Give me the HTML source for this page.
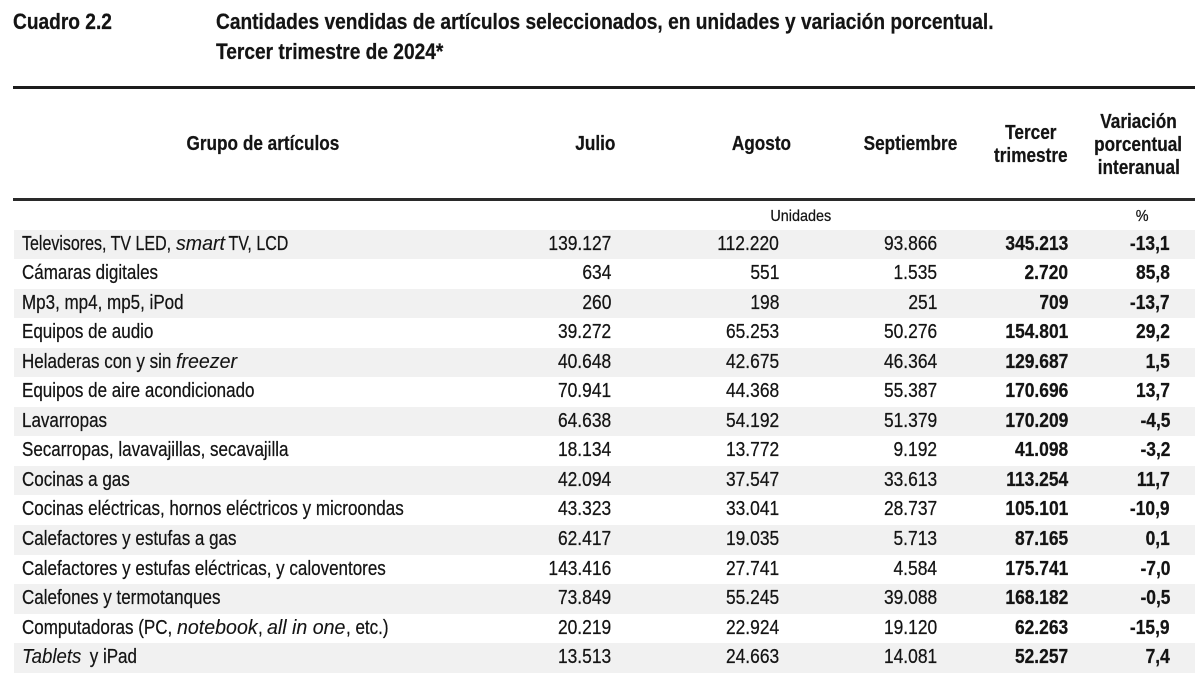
<!DOCTYPE html>
<html>
<head>
<meta charset="utf-8">
<style>
  html,body{margin:0;padding:0;background:#fff;}
  body{width:1200px;height:675px;position:relative;overflow:hidden;
       font-family:"Liberation Sans",Arial,sans-serif;color:#141414;-webkit-text-stroke:0.25px #141414;}
  .abs{position:absolute;white-space:nowrap;}
  .L{position:absolute;white-space:nowrap;transform-origin:0 50%;}
  .R{position:absolute;white-space:nowrap;transform-origin:100% 50%;}
  .C{position:absolute;text-align:center;white-space:nowrap;}
  .C span{display:inline-block;transform-origin:50% 50%;}
  .title{font-size:22px;font-weight:bold;line-height:30px;transform:scaleX(0.87);}
  .rule{position:absolute;left:13px;width:1182px;background:#1c1c1c;}
  .hd{font-size:20px;font-weight:bold;line-height:23px;}
  .hd span{transform:scaleX(0.86);}
  .row{position:absolute;left:14px;width:1181px;height:29.55px;line-height:29.55px;font-size:20px;}
  .row.s{background:#f1f1f1;}
  .lab{transform:scaleX(0.85);}
  .it{font-style:italic;-webkit-text-stroke:0.1px #141414;}
  .num{transform:scaleX(0.87);}
  .b{font-weight:bold;}
</style>
</head>
<body>

<!-- Title -->
<div class="L title" style="left:13px;top:6.7px;">Cuadro 2.2</div>
<div class="L title" style="left:216px;top:6.7px;">Cantidades vendidas de artículos seleccionados, en unidades y variación porcentual.</div>
<div class="L title" style="left:216px;top:36.7px;">Tercer trimestre de 2024*</div>

<!-- Rules -->
<div class="rule" style="top:86px;height:3px;"></div>
<div class="rule" style="top:198px;height:2.5px;background:#2a2a2a;"></div>

<!-- Header -->
<div class="C hd" style="left:112.5px;width:300px;top:133.3px;"><span>Grupo de artículos</span></div>
<div class="C hd" style="left:495px;width:200px;top:133.3px;"><span>Julio</span></div>
<div class="C hd" style="left:661px;width:200px;top:133.3px;"><span>Agosto</span></div>
<div class="C hd" style="left:810px;width:200px;top:133.3px;"><span>Septiembre</span></div>
<div class="C hd" style="left:931px;width:200px;top:122.1px;"><span>Tercer</span><br><span>trimestre</span></div>
<div class="C hd" style="left:1038.5px;width:200px;top:111.1px;"><span>Variación</span><br><span>porcentual</span><br><span>interanual</span></div>

<!-- Units row -->
<div class="C" style="left:701px;width:200px;top:209.2px;font-size:16px;line-height:16px;"><span style="transform:scaleX(0.9);">Unidades</span></div>
<div class="C" style="left:1042px;width:200px;top:209.2px;font-size:16px;line-height:16px;"><span style="transform:scaleX(0.9);">%</span></div>

<!-- Rows -->
<div class="row s" style="top:229.5px;">
  <div class="L" style="left:8px;transform:scaleX(0.80);">Televisores, TV LED,&nbsp;</div>
  <div class="L it" style="left:162px;transform:scaleX(0.98);">smart</div>
  <div class="L" style="left:210px;transform:scaleX(0.80);">&nbsp;TV, LCD</div>
  <div class="R num" style="right:584px;">139.127</div>
  <div class="R num" style="right:416px;">112.220</div>
  <div class="R num" style="right:258px;">93.866</div>
  <div class="R num b" style="right:127px;">345.213</div>
  <div class="R num b" style="right:25px;">-13,1</div>
</div>

<div class="row" style="top:259.05px;">
  <div class="L lab" style="left:8px;">Cámaras digitales</div>
  <div class="R num" style="right:584px;">634</div>
  <div class="R num" style="right:416px;">551</div>
  <div class="R num" style="right:258px;">1.535</div>
  <div class="R num b" style="right:127px;">2.720</div>
  <div class="R num b" style="right:25px;">85,8</div>
</div>

<div class="row s" style="top:288.6px;">
  <div class="L lab" style="left:8px;">Mp3, mp4, mp5, iPod</div>
  <div class="R num" style="right:584px;">260</div>
  <div class="R num" style="right:416px;">198</div>
  <div class="R num" style="right:258px;">251</div>
  <div class="R num b" style="right:127px;">709</div>
  <div class="R num b" style="right:25px;">-13,7</div>
</div>

<div class="row" style="top:318.15px;">
  <div class="L lab" style="left:8px;">Equipos de audio</div>
  <div class="R num" style="right:584px;">39.272</div>
  <div class="R num" style="right:416px;">65.253</div>
  <div class="R num" style="right:258px;">50.276</div>
  <div class="R num b" style="right:127px;">154.801</div>
  <div class="R num b" style="right:25px;">29,2</div>
</div>

<div class="row s" style="top:347.7px;">
  <div class="L lab" style="left:8px;">Heladeras con y sin&nbsp;</div>
  <div class="L it" style="left:162px;transform:scaleX(0.98);">freezer</div>
  <div class="R num" style="right:584px;">40.648</div>
  <div class="R num" style="right:416px;">42.675</div>
  <div class="R num" style="right:258px;">46.364</div>
  <div class="R num b" style="right:127px;">129.687</div>
  <div class="R num b" style="right:25px;">1,5</div>
</div>

<div class="row" style="top:377.25px;">
  <div class="L lab" style="left:8px;">Equipos de aire acondicionado</div>
  <div class="R num" style="right:584px;">70.941</div>
  <div class="R num" style="right:416px;">44.368</div>
  <div class="R num" style="right:258px;">55.387</div>
  <div class="R num b" style="right:127px;">170.696</div>
  <div class="R num b" style="right:25px;">13,7</div>
</div>

<div class="row s" style="top:406.8px;">
  <div class="L lab" style="left:8px;">Lavarropas</div>
  <div class="R num" style="right:584px;">64.638</div>
  <div class="R num" style="right:416px;">54.192</div>
  <div class="R num" style="right:258px;">51.379</div>
  <div class="R num b" style="right:127px;">170.209</div>
  <div class="R num b" style="right:25px;">-4,5</div>
</div>

<div class="row" style="top:436.35px;">
  <div class="L lab" style="left:8px;">Secarropas, lavavajillas, secavajilla</div>
  <div class="R num" style="right:584px;">18.134</div>
  <div class="R num" style="right:416px;">13.772</div>
  <div class="R num" style="right:258px;">9.192</div>
  <div class="R num b" style="right:127px;">41.098</div>
  <div class="R num b" style="right:25px;">-3,2</div>
</div>

<div class="row s" style="top:465.9px;">
  <div class="L lab" style="left:8px;">Cocinas a gas</div>
  <div class="R num" style="right:584px;">42.094</div>
  <div class="R num" style="right:416px;">37.547</div>
  <div class="R num" style="right:258px;">33.613</div>
  <div class="R num b" style="right:127px;">113.254</div>
  <div class="R num b" style="right:25px;">11,7</div>
</div>

<div class="row" style="top:495.45px;">
  <div class="L lab" style="left:8px;">Cocinas eléctricas, hornos eléctricos y microondas</div>
  <div class="R num" style="right:584px;">43.323</div>
  <div class="R num" style="right:416px;">33.041</div>
  <div class="R num" style="right:258px;">28.737</div>
  <div class="R num b" style="right:127px;">105.101</div>
  <div class="R num b" style="right:25px;">-10,9</div>
</div>

<div class="row s" style="top:525px;">
  <div class="L lab" style="left:8px;">Calefactores y estufas a gas</div>
  <div class="R num" style="right:584px;">62.417</div>
  <div class="R num" style="right:416px;">19.035</div>
  <div class="R num" style="right:258px;">5.713</div>
  <div class="R num b" style="right:127px;">87.165</div>
  <div class="R num b" style="right:25px;">0,1</div>
</div>

<div class="row" style="top:554.55px;">
  <div class="L lab" style="left:8px;">Calefactores y estufas eléctricas, y caloventores</div>
  <div class="R num" style="right:584px;">143.416</div>
  <div class="R num" style="right:416px;">27.741</div>
  <div class="R num" style="right:258px;">4.584</div>
  <div class="R num b" style="right:127px;">175.741</div>
  <div class="R num b" style="right:25px;">-7,0</div>
</div>

<div class="row s" style="top:584.1px;">
  <div class="L lab" style="left:8px;">Calefones y termotanques</div>
  <div class="R num" style="right:584px;">73.849</div>
  <div class="R num" style="right:416px;">55.245</div>
  <div class="R num" style="right:258px;">39.088</div>
  <div class="R num b" style="right:127px;">168.182</div>
  <div class="R num b" style="right:25px;">-0,5</div>
</div>

<div class="row" style="top:613.65px;">
  <div class="L lab" style="left:8px;">Computadoras (PC,&nbsp;</div>
  <div class="L it" style="left:163px;transform:scaleX(0.98);">notebook</div>
  <div class="L lab" style="left:243.6px;">,&nbsp;</div>
  <div class="L it" style="left:253px;transform:scaleX(0.98);">all in one</div>
  <div class="L lab" style="left:331.5px;">, etc.)</div>
  <div class="R num" style="right:584px;">20.219</div>
  <div class="R num" style="right:416px;">22.924</div>
  <div class="R num" style="right:258px;">19.120</div>
  <div class="R num b" style="right:127px;">62.263</div>
  <div class="R num b" style="right:25px;">-15,9</div>
</div>

<div class="row s" style="top:643.2px;">
  <div class="L it" style="left:8px;transform:scaleX(0.93);">Tablets</div>
  <div class="L lab" style="left:71px;">&nbsp;y iPad</div>
  <div class="R num" style="right:584px;">13.513</div>
  <div class="R num" style="right:416px;">24.663</div>
  <div class="R num" style="right:258px;">14.081</div>
  <div class="R num b" style="right:127px;">52.257</div>
  <div class="R num b" style="right:25px;">7,4</div>
</div>

</body>
</html>
